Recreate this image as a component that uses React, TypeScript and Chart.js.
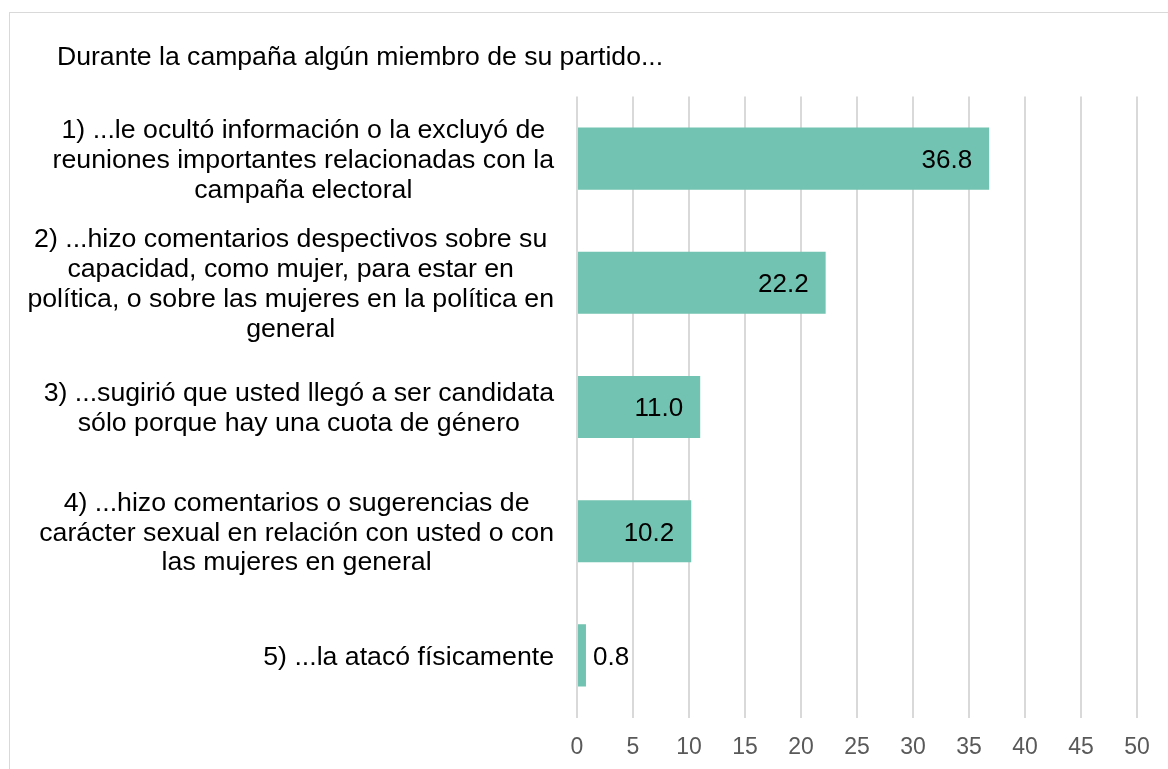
import React, { useEffect, useRef } from "react";
import { Chart, registerables } from "chart.js";

Chart.register(...registerables);

const titleText = "Durante la campaña algún miembro de su partido...";
const categories: string[][] = [
  ["1) ...le ocultó información o la excluyó de", "reuniones importantes relacionadas con la", "campaña electoral"],
  ["2) ...hizo comentarios despectivos sobre su", "capacidad, como mujer, para estar en", "política, o sobre las mujeres en la política en", "general"],
  ["3) ...sugirió que usted llegó a ser candidata", "sólo porque hay una cuota de género"],
  ["4) ...hizo comentarios o sugerencias de", "carácter sexual en relación con usted o con", "las mujeres en general"],
  ["5) ...la atacó físicamente"],
];
const values: number[] = [36.8, 22.2, 11.0, 10.2, 0.8];
const axisMin = 0;
const axisMax = 50;
const axisStep = 5;

const FONT = "'Liberation Sans', Arial, sans-serif";
const BAR_COLOR = "#72C3B1";

const textPlugin = {
  id: "textPlugin",
  afterDatasetsDraw(chart: any) {
    const ctx = chart.ctx as CanvasRenderingContext2D;
    const yScale = chart.scales.y;
    ctx.save();
    // title
    ctx.fillStyle = "#000";
    ctx.font = `26.6px ${FONT}`;
    ctx.textAlign = "left";
    ctx.textBaseline = "alphabetic";
    ctx.fillText(titleText, 47, 51.5);

    // category labels
    const rightEdge = chart.chartArea.left - 23;
    const lineH = 29.8;
    categories.forEach((lines, i) => {
      const cy = yScale.getPixelForValue(i);
      ctx.font = `26.7px ${FONT}`;
      const maxW = Math.max(...lines.map((l) => ctx.measureText(l).width));
      const cx = rightEdge - maxW / 2;
      ctx.textAlign = "center";
      const n = lines.length;
      lines.forEach((l, j) => {
        const by = cy + 9.3 + (j - (n - 1) / 2) * lineH;
        ctx.fillText(l, cx, by);
      });
    });

    // data labels
    const meta = chart.getDatasetMeta(0);
    ctx.font = `26px ${FONT}`;
    meta.data.forEach((bar: any, i: number) => {
      const v = values[i];
      const txt = v.toFixed(1);
      const w = ctx.measureText(txt).width;
      const barLen = bar.x - bar.base;
      const y = bar.y + 9.3;
      if (barLen > w + 30) {
        ctx.textAlign = "right";
        ctx.fillText(txt, bar.x - 17, y);
      } else {
        ctx.textAlign = "left";
        ctx.fillText(txt, bar.x + 7, y);
      }
    });
    ctx.restore();
  },
};

export default function App() {
  const ref = useRef<HTMLCanvasElement | null>(null);
  useEffect(() => {
    if (!ref.current) return;
    const chart = new Chart(ref.current, {
      type: "bar",
      data: {
        labels: categories.map((c) => c.join(" ")),
        datasets: [
          {
            data: values,
            backgroundColor: BAR_COLOR,
            borderWidth: 0,
            barPercentage: 0.5,
            categoryPercentage: 1,
          },
        ],
      },
      options: {
        indexAxis: "y",
        responsive: false,
        animation: false,
        devicePixelRatio: 1,
        layout: { padding: { left: 567, right: 73, top: 83.5, bottom: 43.5 } },
        plugins: { legend: { display: false }, tooltip: { enabled: false }, title: { display: false } },
        scales: {
          x: {
            min: axisMin,
            max: axisMax,
            border: { display: false },
            grid: { color: "#d9d9d9", lineWidth: 2, drawTicks: false },
            ticks: {
              stepSize: axisStep,
              color: "#595959",
              padding: 16,
              font: { size: 23, family: FONT },
            },
            afterFit: (s: any) => {
              s.height = 52;
            },
          },
          y: {
            display: false,
          },
        },
      },
      plugins: [textPlugin],
    });
    return () => chart.destroy();
  }, []);
  return (
    <div
      style={{
        position: "fixed",
        left: 9,
        top: 12,
        width: 1200,
        height: 800,
        border: "1px solid #d9d9d9",
        background: "#fff",
      }}
    >
      <canvas ref={ref} width={1200} height={800} style={{ display: "block" }} />
    </div>
  );
}
